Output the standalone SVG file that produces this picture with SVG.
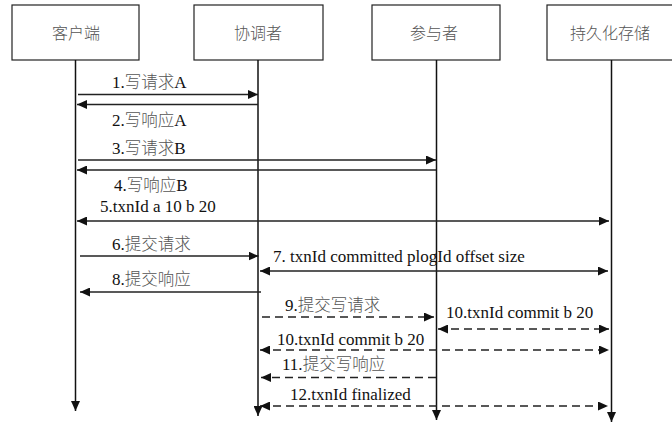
<svg xmlns="http://www.w3.org/2000/svg" width="672" height="422" viewBox="0 0 672 422">
  <style>
    .box { fill: #fff; stroke: #222; stroke-width: 1.2; }
    .boxlabel { font-family: "Noto Sans CJK SC", sans-serif; font-size: 16px; font-weight: 300; fill: #555; text-anchor: middle; }
    .life { stroke: #111; stroke-width: 1.5; fill: none; }
    .msg { stroke: #222; stroke-width: 1.5; fill: none; }
    .dash { stroke-dasharray: 8 5; }
    .lbl { font-family: "Liberation Serif", "Times New Roman", "Noto Sans CJK SC", serif; font-size: 17px; fill: #111; }
    .cjk { font-family: "Noto Sans CJK SC", sans-serif; font-size: 16.5px; font-weight: 300; fill: #555; }
  </style>
  <defs>
    <marker id="arrow" markerUnits="userSpaceOnUse" markerWidth="10" markerHeight="9" refX="10" refY="4.5" orient="auto-start-reverse">
      <path d="M0,0 L10,4.5 L0,9 z" fill="#111"/>
    </marker>
  </defs>
  <rect width="672" height="422" fill="#fff"/>

  <!-- participants with their lifelines -->
  <g id="client">
    <rect class="box" x="12" y="5" width="127" height="55"/>
    <text class="boxlabel" x="76" y="39">客户端</text>
    <line class="life" x1="75.5" y1="60" x2="75.5" y2="411" marker-end="url(#arrow)"/>
  </g>
  <g id="coordinator">
    <rect class="box" x="194" y="5" width="129" height="55"/>
    <text class="boxlabel" x="258" y="39">协调者</text>
    <line class="life" x1="258" y1="60" x2="258" y2="416" marker-end="url(#arrow)"/>
  </g>
  <g id="participant">
    <rect class="box" x="372" y="5" width="128" height="55"/>
    <text class="boxlabel" x="434" y="39">参与者</text>
    <line class="life" x1="436.5" y1="60" x2="436.5" y2="420" marker-end="url(#arrow)"/>
  </g>
  <g id="storage">
    <rect class="box" x="547" y="5" width="130" height="55"/>
    <text class="boxlabel" x="610" y="39">持久化存储</text>
    <line class="life" x1="611.5" y1="60" x2="611.5" y2="422" marker-end="url(#arrow)"/>
  </g>

  <!-- messages -->
  <g id="connectors">
    <line class="msg" x1="78" y1="94.5" x2="258" y2="94.5" marker-end="url(#arrow)"/>
    <line class="msg" x1="258" y1="104.5" x2="77" y2="104.5" marker-end="url(#arrow)"/>
    <line class="msg" x1="78" y1="160" x2="436" y2="160" marker-end="url(#arrow)"/>
    <line class="msg" x1="436" y1="170" x2="77" y2="170" marker-end="url(#arrow)"/>
    <line class="msg" x1="77" y1="221" x2="609" y2="221" marker-start="url(#arrow)" marker-end="url(#arrow)"/>
    <line class="msg" x1="80" y1="256" x2="258.5" y2="256" marker-end="url(#arrow)"/>
    <line class="msg" x1="260" y1="271" x2="608" y2="271" marker-start="url(#arrow)" marker-end="url(#arrow)"/>
    <line class="msg" x1="261" y1="292" x2="80" y2="292" marker-end="url(#arrow)"/>
    <line class="msg dash" x1="262" y1="317" x2="434" y2="317" marker-end="url(#arrow)"/>
    <line class="msg dash" x1="438" y1="329" x2="609" y2="329" marker-start="url(#arrow)" marker-end="url(#arrow)"/>
    <line class="msg dash" x1="260" y1="350" x2="609" y2="350" marker-start="url(#arrow)" marker-end="url(#arrow)"/>
    <line class="msg dash" x1="436" y1="377.5" x2="261" y2="377.5" marker-end="url(#arrow)"/>
    <line class="msg dash" x1="260" y1="406" x2="608" y2="406" marker-start="url(#arrow)" marker-end="url(#arrow)"/>
  </g>

  <!-- message labels -->
  <g id="labels">
    <text class="lbl" x="112" y="88">1.<tspan class="cjk">写请求</tspan>A</text>
    <text class="lbl" x="112" y="126">2.<tspan class="cjk">写响应</tspan>A</text>
    <text class="lbl" x="112" y="154">3.<tspan class="cjk">写请求</tspan>B</text>
    <text class="lbl" x="114" y="191">4.<tspan class="cjk">写响应</tspan>B</text>
    <text class="lbl" x="100" y="212">5.txnId a 10 b 20</text>
    <text class="lbl" x="112" y="250">6.<tspan class="cjk">提交请求</tspan></text>
    <text class="lbl" x="273" y="262">7. txnId committed plogId offset size</text>
    <text class="lbl" x="112" y="285">8.<tspan class="cjk">提交响应</tspan></text>
    <text class="lbl" x="285" y="311">9.<tspan class="cjk">提交写请求</tspan></text>
    <text class="lbl" x="446" y="318">10.txnId commit b 20</text>
    <text class="lbl" x="277" y="345">10.txnId commit b 20</text>
    <text class="lbl" x="282" y="370">11.<tspan class="cjk">提交写响应</tspan></text>
    <text class="lbl" x="290" y="400">12.txnId finalized</text>
  </g>
</svg>
